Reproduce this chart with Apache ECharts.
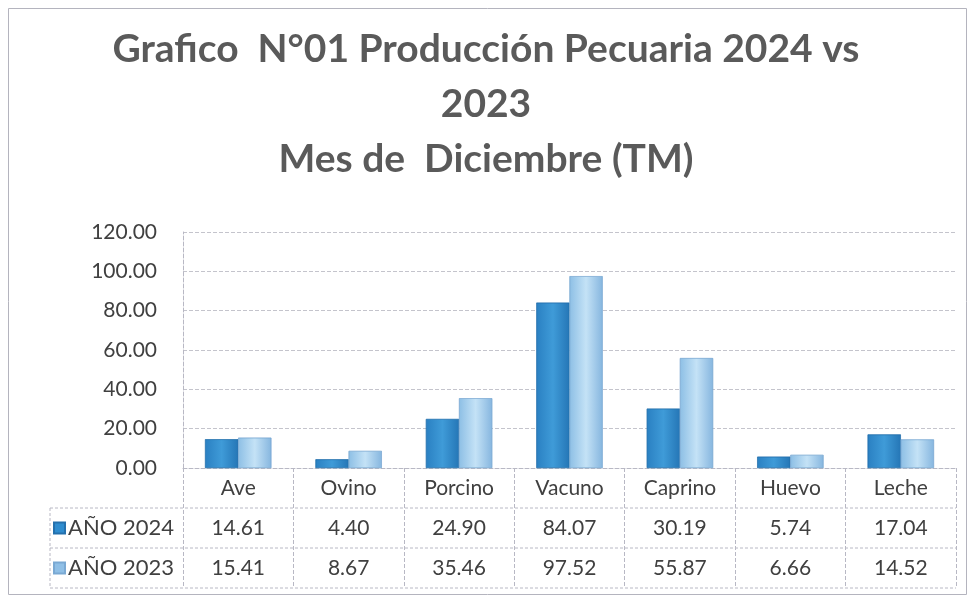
<!DOCTYPE html>
<html>
<head>
<meta charset="utf-8">
<script src="https://cdn.jsdelivr.net/npm/echarts@6/dist/echarts.min.js"></script>
<style>html,body{margin:0;padding:0;background:#fff}#c{width:972px;height:598px}</style>
</head>
<body>
<div id="c"></div>
<script>
const categories = ['Ave', 'Ovino', 'Porcino', 'Vacuno', 'Caprino', 'Huevo', 'Leche'];
const values2024 = [14.61, 4.40, 24.90, 84.07, 30.19, 5.74, 17.04];
const values2023 = [15.41, 8.67, 35.46, 97.52, 55.87, 6.66, 14.52];
const seriesNames = ['AÑO 2024', 'AÑO 2023'];
const yTicks = [0, 20, 40, 60, 80, 100, 120];

const FONT = 'Lato, "Open Sans", sans-serif';
const TXT = '#404040';
const LINE = '#b8b8c4';

const grad = (a, b, c) => new echarts.graphic.LinearGradient(0, 0, 1, 0, [
  { offset: 0, color: a }, { offset: 0.5, color: b }, { offset: 1, color: c }
]);
const c2024 = grad('#2a80c2', '#3f9bd8', '#2576b6');
const c2023 = grad('#8dbfe5', '#c4e2f6', '#86b6df');

const chart = echarts.init(document.getElementById('c'), null, { renderer: 'canvas' });

const GL = 183, GR = 16, GT = 232, GB = 130;

chart.setOption({
  animation: false,
  backgroundColor: '#fff',
  title: {
    text: 'Grafico  N°01 Producción Pecuaria 2024 vs\n2023\nMes de  Diciembre (TM)',
    left: 'center',
    top: 17,
    textStyle: { fontFamily: FONT, fontSize: 39, fontWeight: 'bold', color: '#5a5a5a', lineHeight: 55 }
  },
  legend: {
    orient: 'vertical',
    left: 48,
    top: 512,
    itemGap: 18,
    itemWidth: 11,
    itemHeight: 11,
    icon: 'rect',
    data: seriesNames.map((n, i) => ({ name: n, itemStyle: { color: i === 0 ? '#2e8ccf' : '#8fbfe6' } })),
    textStyle: { fontFamily: FONT, fontSize: 22, color: TXT, padding: [0, 0, 0, -2] }
  },
  grid: { left: GL, right: GR, top: GT, bottom: GB, containLabel: false },
  xAxis: {
    type: 'category',
    data: categories,
    axisLine: { show: true, lineStyle: { color: LINE, type: 'dashed', width: 1 } },
    axisTick: { show: true, length: 120, lineStyle: { color: LINE, type: 'dashed', width: 1 } },
    axisLabel: {
      margin: 0,
      interval: 0,
      fontFamily: FONT,
      fontSize: 21,
      color: TXT,
      lineHeight: 40,
      formatter: (v, i) => v + '\n' + values2024[i].toFixed(2) + '\n' + values2023[i].toFixed(2)
    }
  },
  yAxis: {
    type: 'value',
    min: yTicks[0],
    max: yTicks[yTicks.length - 1],
    interval: 20,
    axisLine: { show: true, lineStyle: { color: LINE, type: 'dashed', width: 1 } },
    axisTick: { show: false },
    splitLine: { lineStyle: { color: '#c4c4cc', type: 'dashed', width: 1 } },
    axisLabel: { fontFamily: FONT, fontSize: 21, color: TXT, margin: 26, formatter: v => v.toFixed(2) }
  },
  series: [
    { name: seriesNames[0], type: 'bar', data: values2024, barGap: '0%', barCategoryGap: '40%',
      itemStyle: { color: c2024, borderColor: '#2470ad', borderWidth: 0.5 } },
    { name: seriesNames[1], type: 'bar', data: values2023, barGap: '0%', barCategoryGap: '40%',
      itemStyle: { color: c2023, borderColor: '#7aa9d3', borderWidth: 0.5 } }
  ]
});

// table grid lines derived from grid geometry
const W = 972, H = 598;
const x0 = 50, xR = W - GR, yAxis0 = H - GB;
const rowH = 40;
const ls = { stroke: LINE, lineWidth: 1, lineDash: [3, 2] };
chart.setOption({
  graphic: [
    { type: 'rect', shape: { x: 8.5, y: 8.5, width: 958, height: 586 }, style: { fill: null, stroke: '#b4b4be', lineWidth: 1 } },
    { type: 'line', shape: { x1: x0, y1: yAxis0 + rowH, x2: xR, y2: yAxis0 + rowH }, style: ls },
    { type: 'line', shape: { x1: x0, y1: yAxis0 + 2 * rowH, x2: xR, y2: yAxis0 + 2 * rowH }, style: ls },
    { type: 'line', shape: { x1: x0, y1: yAxis0 + 3 * rowH, x2: xR, y2: yAxis0 + 3 * rowH }, style: ls },
    { type: 'line', shape: { x1: x0, y1: yAxis0 + rowH, x2: x0, y2: yAxis0 + 3 * rowH }, style: ls }
  ]
});
</script>
</body>
</html>
